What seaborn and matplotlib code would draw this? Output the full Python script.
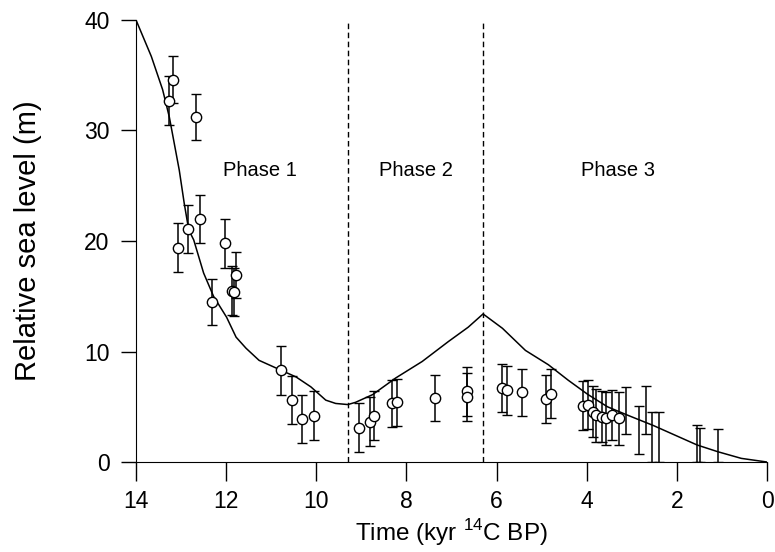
import numpy as np
import pandas as pd
import seaborn as sns
import matplotlib
matplotlib.use("Agg")
import matplotlib.pyplot as plt

sns.set_style("ticks", {"axes.edgecolor": "black", "text.color": "black",
                        "axes.labelcolor": "black", "xtick.color": "black",
                        "ytick.color": "black"})
plt.rcParams['font.family'] = ['Liberation Sans', 'DejaVu Sans']
plt.rcParams['mathtext.fontset'] = 'custom'
plt.rcParams['mathtext.rm'] = 'Liberation Sans'

# dated samples (kyr 14C BP, m) with symmetric errors
age = [13.17, 13.26, 12.66, 12.85, 12.59, 13.06, 12.02, 12.32, 11.86, 11.82, 11.79,
       10.78, 10.53, 10.32, 10.05, 9.06, 8.80, 8.71, 8.33, 8.20, 7.36, 6.65, 6.65,
       5.87, 5.76, 5.43, 4.90, 4.79, 4.08, 3.97, 3.85, 3.79, 3.66, 3.57, 3.43, 3.28]
rsl = [34.6, 32.7, 31.2, 21.1, 22.0, 19.4, 19.8, 14.5, 15.5, 15.4, 16.9,
       8.3, 5.6, 3.9, 4.2, 3.1, 3.65, 4.2, 5.3, 5.4, 5.8, 6.4, 5.9,
       6.7, 6.5, 6.3, 5.7, 6.2, 5.1, 5.2, 4.55, 4.25, 4.1, 3.95, 4.25, 3.95]
err = [2.1, 2.2, 2.1, 2.2, 2.2, 2.2, 2.2, 2.1, 2.2, 2.2, 2.1,
       2.2, 2.2, 2.2, 2.2, 2.2, 2.2, 2.2, 2.1, 2.1, 2.1, 2.2, 2.2,
       2.2, 2.2, 2.1, 2.2, 2.2, 2.2, 2.2, 2.3, 2.4, 2.3, 2.4, 2.3, 2.4]

# ranges drawn without a symbol
bar_age = [3.13, 2.83, 2.69, 2.55, 2.39, 1.56, 1.48, 1.09]
bar_lo = [2.5, 0.7, 2.5, 0.0, 0.0, 0.0, 0.0, 0.0]
bar_hi = [6.8, 5.1, 6.9, 4.55, 4.5, 3.35, 3.1, 3.0]

# model curve
curve_age = [14.0, 13.66, 13.41, 13.26, 13.15, 13.04, 12.93, 12.83, 12.72, 12.5, 12.28,
             11.99, 11.78, 11.56, 11.27, 10.78, 10.45, 10.12, 9.79, 9.57, 9.3, 9.13,
             8.75, 8.24, 7.65, 7.07, 6.63, 6.3, 5.87, 5.36, 4.85, 4.41, 3.97, 3.54,
             3.10, 2.52, 1.55, 1.09, 0.57, 0.0]
curve_rsl = [40.0, 36.7, 33.7, 31.2, 28.8, 26.4, 23.4, 21.0, 20.1, 17.1, 15.0,
             13.1, 11.3, 10.3, 9.2, 8.3, 7.7, 6.8, 5.6, 5.3, 5.2, 5.4,
             6.1, 7.6, 9.1, 10.9, 12.2, 13.4, 12.1, 10.1, 8.8, 7.4, 6.1, 5.0,
             4.25, 3.3, 1.54, 0.93, 0.33, 0.0]

phase_bounds = [9.3, 6.3]
phase_names = ["Phase 1", "Phase 2", "Phase 3"]
phase_x = [11.25, 7.8, 3.3]

pts = pd.DataFrame({"age": age, "rsl": rsl, "err": err})
curve = pd.DataFrame({"age": curve_age, "rsl": curve_rsl})

fig = plt.figure(figsize=(7.75, 5.52), dpi=100)
ax = fig.add_axes([0.1755, 0.163, 0.8142, 0.8008])

sns.lineplot(data=curve, x="age", y="rsl", sort=False, color="black", linewidth=1.1, ax=ax)

for b in phase_bounds:
    ax.axvline(b, color="black", linewidth=1.0, linestyle=(0, (4, 2.5)))

ax.errorbar(pts["age"], pts["rsl"], yerr=pts["err"], fmt="none", ecolor="black",
            elinewidth=1.1, capsize=3.5, capthick=1.0, zorder=3)
lo = np.array(bar_lo)
hi = np.array(bar_hi)
mid = (lo + hi) / 2
ax.errorbar(bar_age, mid, yerr=(hi - lo) / 2, fmt="none", ecolor="black",
            elinewidth=1.1, capsize=3.5, capthick=1.0, zorder=3)

sns.scatterplot(data=pts, x="age", y="rsl", marker="o", s=55, facecolor="white",
                edgecolor="black", linewidth=1.0, zorder=4, ax=ax)

for name, px in zip(phase_names, phase_x):
    ax.text(px, 26.4, name, ha="center", va="center", fontsize=14.5)

ax.set_xlim(14, 0)
ax.set_ylim(0, 40)
ax.set_xticks(range(0, 15, 2))
ax.set_yticks(range(0, 41, 10))
sns.despine(ax=ax)
ax.tick_params(axis="x", direction="out", length=14, width=1.0, pad=6, labelsize=16.5)
ax.tick_params(axis="y", direction="out", length=11, width=1.0, pad=8, labelsize=16.5)
ax.set_xlabel(r"Time (kyr $^{14}$C BP)", fontsize=17.5, labelpad=3)
ax.set_ylabel("Relative sea level (m)", fontsize=21, labelpad=30)

fig.savefig("out.png", dpi=100)
